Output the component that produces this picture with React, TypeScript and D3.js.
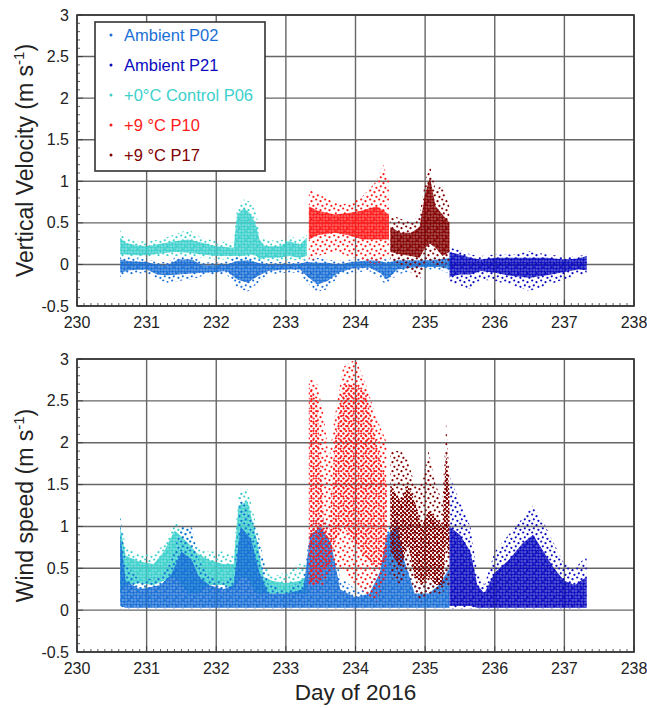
import React from "react";
import * as d3 from "d3";

// ---------- data ----------
// each row: [day, outerLow, coreLow, coreHigh, outerHigh]  (core may be null)
type Row = [number, number, number | null, number | null, number];

const seriesNames = ["Ambient P02", "Ambient P21", "+0°C Control P06", "+9 °C P10", "+9 °C P17"];
const seriesColors = ["#1a6fd6", "#0a0ac0", "#3cd0cc", "#ff1a1a", "#820000"];

const xTicks = [230, 231, 232, 233, 234, 235, 236, 237, 238];
const yTicks = [-0.5, 0, 0.5, 1, 1.5, 2, 2.5, 3];

// Vertical velocity panel
const vvP02: Row[] = [
  [230.62, -0.16, -0.1, 0.06, 0.1], [230.75, -0.12, -0.07, 0.04, 0.08], [231.0, -0.1, -0.06, 0.03, 0.06],
  [231.15, -0.18, -0.12, 0.0, 0.03], [231.3, -0.22, -0.13, -0.01, 0.03], [231.45, -0.2, -0.12, 0.06, 0.1],
  [231.65, -0.18, -0.11, 0.06, 0.1], [231.8, -0.14, -0.1, -0.01, 0.03], [232.0, -0.12, -0.09, -0.01, 0.02],
  [232.15, -0.12, -0.08, 0.0, 0.04], [232.3, -0.28, -0.18, 0.04, 0.1], [232.45, -0.33, -0.22, 0.05, 0.1],
  [232.6, -0.22, -0.14, 0.02, 0.06], [232.75, -0.12, -0.08, 0.0, 0.03], [233.0, -0.1, -0.06, 0.0, 0.03],
  [233.2, -0.1, -0.06, 0.01, 0.03], [233.3, -0.22, -0.14, 0.03, 0.06], [233.45, -0.33, -0.24, 0.02, 0.08],
  [233.6, -0.3, -0.2, 0.02, 0.06], [233.75, -0.15, -0.1, 0.0, 0.04], [233.95, -0.1, -0.05, 0.03, 0.06],
  [234.2, -0.08, -0.04, 0.05, 0.08], [234.35, -0.18, -0.1, 0.04, 0.08], [234.45, -0.25, -0.18, 0.02, 0.06],
  [234.6, -0.12, -0.06, 0.05, 0.08], [234.8, -0.08, -0.04, 0.05, 0.08], [235.0, -0.06, -0.03, 0.05, 0.08],
  [235.2, -0.06, -0.03, 0.06, 0.08], [235.38, -0.12, -0.06, 0.08, 0.12],
];
const vvP21: Row[] = [
  [235.35, -0.22, -0.15, 0.15, 0.2], [235.5, -0.25, -0.12, 0.12, 0.18], [235.65, -0.3, -0.12, 0.08, 0.12],
  [235.8, -0.18, -0.08, 0.06, 0.1], [236.0, -0.2, -0.1, 0.08, 0.12], [236.25, -0.25, -0.14, 0.08, 0.12],
  [236.5, -0.32, -0.16, 0.08, 0.16], [236.75, -0.25, -0.13, 0.08, 0.12], [237.0, -0.18, -0.09, 0.06, 0.1],
  [237.2, -0.12, -0.06, 0.07, 0.1], [237.32, -0.14, -0.07, 0.1, 0.12],
];
const vvP06: Row[] = [
  [230.62, 0.05, 0.12, 0.32, 0.42], [230.7, 0.08, 0.12, 0.26, 0.32], [230.85, 0.07, 0.11, 0.23, 0.28],
  [231.0, 0.08, 0.11, 0.22, 0.28], [231.2, 0.1, 0.13, 0.25, 0.3], [231.4, 0.1, 0.15, 0.28, 0.36],
  [231.6, 0.1, 0.14, 0.3, 0.42], [231.8, 0.08, 0.12, 0.26, 0.32], [232.0, 0.06, 0.1, 0.22, 0.28],
  [232.25, 0.06, 0.1, 0.2, 0.26], [232.3, 0.0, 0.1, 0.6, 0.7], [232.4, 0.0, 0.1, 0.68, 0.78],
  [232.5, 0.0, 0.12, 0.6, 0.75], [232.58, 0.02, 0.1, 0.45, 0.6], [232.62, 0.02, 0.06, 0.3, 0.35],
  [232.7, 0.04, 0.08, 0.22, 0.3], [232.9, 0.04, 0.08, 0.22, 0.28], [233.05, 0.05, 0.1, 0.28, 0.34],
  [233.2, 0.05, 0.08, 0.24, 0.3], [233.3, 0.05, 0.1, 0.32, 0.36],
];
const vvP10: Row[] = [
  [233.33, 0.0, 0.3, 0.7, 0.9], [233.45, 0.1, 0.35, 0.65, 0.85], [233.7, 0.15, 0.38, 0.6, 0.75],
  [233.9, 0.1, 0.35, 0.62, 0.72], [234.1, 0.05, 0.3, 0.65, 0.82], [234.3, 0.0, 0.3, 0.7, 1.0],
  [234.4, 0.05, 0.3, 0.65, 1.2], [234.48, 0.1, 0.3, 0.6, 1.0],
];
const vvP17: Row[] = [
  [234.5, 0.05, 0.15, 0.45, 0.6], [234.65, 0.0, 0.12, 0.38, 0.55], [234.8, -0.1, 0.1, 0.38, 0.5],
  [234.92, -0.2, 0.08, 0.45, 0.6], [235.0, 0.0, 0.2, 0.85, 1.0], [235.07, 0.05, 0.25, 1.05, 1.2],
  [235.15, 0.0, 0.2, 0.7, 0.9], [235.25, -0.05, 0.1, 0.6, 0.95], [235.35, 0.05, 0.15, 0.5, 0.7],
];

// Wind speed panel
const wsP02: Row[] = [
  [230.62, 0.02, 0.05, 0.9, 1.15], [230.7, 0.02, 0.03, 0.35, 0.55], [230.9, 0.02, 0.03, 0.25, 0.35],
  [231.2, 0.02, 0.03, 0.3, 0.4], [231.35, 0.02, 0.03, 0.42, 0.6], [231.5, 0.02, 0.03, 0.7, 1.0],
  [231.65, 0.02, 0.03, 0.6, 1.0], [231.75, 0.02, 0.03, 0.4, 0.6], [231.9, 0.02, 0.03, 0.3, 0.4],
  [232.1, 0.02, 0.03, 0.25, 0.35], [232.25, 0.02, 0.03, 0.3, 0.4], [232.35, 0.02, 0.03, 1.0, 1.4],
  [232.5, 0.02, 0.03, 0.85, 1.1], [232.62, 0.02, 0.03, 0.45, 0.85], [232.75, 0.02, 0.03, 0.2, 0.3],
  [233.0, 0.02, 0.03, 0.2, 0.25], [233.25, 0.02, 0.03, 0.25, 0.35], [233.35, 0.02, 0.03, 0.9, 1.0],
  [233.5, 0.02, 0.03, 1.0, 1.2], [233.65, 0.02, 0.03, 0.8, 0.95], [233.78, 0.02, 0.03, 0.25, 0.4],
  [234.0, 0.02, 0.03, 0.15, 0.25], [234.2, 0.02, 0.03, 0.2, 0.3], [234.35, 0.02, 0.03, 0.45, 0.6],
  [234.45, 0.02, 0.03, 0.9, 1.0], [234.6, 0.02, 0.03, 1.0, 1.1], [234.7, 0.02, 0.03, 0.6, 0.8],
  [234.85, 0.02, 0.03, 0.2, 0.3], [235.05, 0.02, 0.03, 0.2, 0.3], [235.2, 0.02, 0.03, 0.3, 0.4],
  [235.35, 0.02, 0.03, 0.5, 0.6],
];
const wsP21: Row[] = [
  [235.35, 0.02, 0.05, 1.0, 1.6], [235.5, 0.02, 0.05, 0.9, 1.3], [235.65, 0.02, 0.05, 0.7, 1.0],
  [235.75, 0.02, 0.03, 0.3, 0.45], [235.85, 0.02, 0.03, 0.2, 0.3], [236.0, 0.02, 0.03, 0.45, 0.7],
  [236.2, 0.02, 0.03, 0.6, 0.9], [236.4, 0.02, 0.03, 0.8, 1.1], [236.55, 0.02, 0.03, 0.9, 1.25],
  [236.7, 0.02, 0.03, 0.7, 1.05], [236.85, 0.02, 0.03, 0.5, 0.8], [237.0, 0.02, 0.03, 0.35, 0.55],
  [237.15, 0.02, 0.03, 0.3, 0.5], [237.32, 0.02, 0.03, 0.4, 0.65],
];
const wsP06: Row[] = [
  [230.62, 0.05, 0.2, 1.0, 1.15], [230.7, 0.1, 0.3, 0.65, 0.75], [230.9, 0.2, 0.32, 0.58, 0.68],
  [231.1, 0.2, 0.3, 0.55, 0.65], [231.25, 0.25, 0.35, 0.7, 0.8], [231.4, 0.3, 0.4, 0.95, 1.05],
  [231.5, 0.2, 0.3, 0.88, 1.0], [231.6, 0.1, 0.2, 0.8, 1.0], [231.72, 0.15, 0.2, 0.68, 0.75],
  [231.9, 0.2, 0.3, 0.6, 0.7], [232.1, 0.2, 0.3, 0.55, 0.7], [232.25, 0.15, 0.25, 0.55, 0.65],
  [232.32, 0.3, 0.4, 1.25, 1.4], [232.45, 0.3, 0.38, 1.3, 1.45], [232.58, 0.15, 0.2, 0.85, 1.0],
  [232.68, 0.15, 0.2, 0.4, 0.6], [232.8, 0.15, 0.2, 0.35, 0.4], [233.0, 0.15, 0.2, 0.32, 0.45],
  [233.2, 0.15, 0.2, 0.35, 0.55], [233.3, 0.15, 0.2, 0.4, 0.6],
];
const wsP10: Row[] = [
  [233.33, 0.3, 0.3, 2.7, 2.8], [233.45, 0.3, 0.3, 2.5, 2.7], [233.55, 0.3, 0.5, 1.0, 2.3],
  [233.62, 0.4, 0.5, 0.9, 1.8], [233.7, 0.5, 0.8, 2.0, 2.3], [233.82, 0.5, 1.0, 2.7, 2.9],
  [234.0, 0.3, 0.8, 2.7, 3.0], [234.15, 0.2, 0.6, 2.6, 2.7], [234.3, 0.1, 0.5, 2.0, 2.3],
  [234.45, 0.4, 0.6, 1.5, 2.0],
];
const wsP17: Row[] = [
  [234.5, 0.4, 0.7, 1.5, 1.9], [234.65, 0.3, 0.5, 1.3, 1.9], [234.75, 0.5, 0.8, 1.5, 1.8],
  [234.85, 0.2, 0.4, 1.3, 1.5], [234.95, 0.1, 0.3, 1.0, 1.5], [235.05, 0.2, 0.4, 1.2, 1.9],
  [235.15, 0.2, 0.3, 1.1, 1.5], [235.25, 0.2, 0.3, 1.0, 1.3], [235.3, 0.3, 0.8, 1.9, 2.25],
  [235.35, 0.3, 0.6, 1.4, 1.6],
];

// draw order: P06, P02, P10, P17, P21  (indices into seriesNames)
const drawOrder = [2, 0, 3, 4, 1];
const vvSeries = [vvP02, vvP21, vvP06, vvP10, vvP17];
const wsSeries = [wsP02, wsP21, wsP06, wsP10, wsP17];
// how tightly the core points are packed, per series
const vvCore = ["dense", "dense", "dense", "dense", "dense"];
const wsCore = ["dense", "dense", "dense", "medium", "packed"];

// ---------- layout ----------
const W = 647, H = 708;
const X0 = 77, X1 = 634;
const panels = [
  { top: 15, bottom: 306, title: "Vertical Velocity", data: vvSeries, core: vvCore, id: "vv", legend: true },
  { top: 359, bottom: 652, title: "Wind speed", data: wsSeries, core: wsCore, id: "ws", legend: false },
];
const FONT = "'Liberation Sans', Arial, Helvetica, sans-serif";

function Panel({ p }: { p: typeof panels[number] }) {
  const x = d3.scaleLinear().domain([230, 238]).range([X0, X1]);
  const y = d3.scaleLinear().domain([-0.5, 3]).range([p.bottom, p.top]);
  const outer = d3.area<Row>().x(d => x(d[0])).y0(d => y(d[1])).y1(d => y(d[4]));
  const core = d3.area<Row>().defined(d => d[2] !== null).x(d => x(d[0])).y0(d => y(d[2] as number)).y1(d => y(d[3] as number));
  const minorX = d3.range(0, 81).map(k => 230 + k / 10);
  const minorY = d3.range(0, 36).map(k => -0.5 + k / 10);
  const cy = (p.top + p.bottom) / 2;
  return (
    <g>
      <clipPath id={`clip-${p.id}`}>
        <rect x={X0} y={p.top} width={X1 - X0} height={p.bottom - p.top} />
      </clipPath>
      {xTicks.map(t => (
        <line key={"gx" + t} x1={x(t)} x2={x(t)} y1={p.top} y2={p.bottom} stroke="#666" strokeWidth={1.4} />
      ))}
      {yTicks.map(t => (
        <line key={"gy" + t} x1={X0} x2={X1} y1={y(t)} y2={y(t)} stroke="#666" strokeWidth={1.4} />
      ))}
      <g clipPath={`url(#clip-${p.id})`}>
        {drawOrder.map(i => (
          <g key={i}>
            <path d={outer(p.data[i]) || ""} fill={`url(#sparse-${i})`} />
            <path d={core(p.data[i]) || ""} fill={`url(#${p.core[i]}-${i})`} />
          </g>
        ))}
      </g>
      {minorX.map((t, k) => (
        <line key={"mx" + k} x1={x(t)} x2={x(t)} y1={p.bottom} y2={p.bottom - (k % 10 === 0 ? 6 : 3)} stroke="#333" strokeWidth={0.8} />
      ))}
      {minorY.map((t, k) => (
        <line key={"my" + k} x1={X0} x2={X0 + (k % 5 === 0 ? 6 : 3)} y1={y(t)} y2={y(t)} stroke="#333" strokeWidth={0.8} />
      ))}
      <rect x={X0} y={p.top} width={X1 - X0} height={p.bottom - p.top} fill="none" stroke="#333" strokeWidth={1.6} />
      {xTicks.map(t => (
        <text key={"tx" + t} x={x(t)} y={p.bottom + 22} textAnchor="middle" fontSize={16} fill="#222" fontFamily={FONT}>{t}</text>
      ))}
      {yTicks.map(t => (
        <text key={"ty" + t} x={X0 - 8} y={y(t) + 5.5} textAnchor="end" fontSize={16} fill="#222" fontFamily={FONT}>{t}</text>
      ))}
      <text transform={`translate(33,${cy}) rotate(-90)`} textAnchor="middle" fontSize={23} fill="#222" fontFamily={FONT}>
        {p.title} (m s<tspan dy={-9} fontSize={15}>-1</tspan><tspan dy={9}>)</tspan>
      </text>
      {p.legend && (
        <g>
          <rect x={95} y={22} width={170} height={149} fill="white" stroke="#333" strokeWidth={1.6} />
          {seriesNames.map((n, i) => (
            <g key={n}>
              <circle cx={111} cy={35 + i * 30} r={1.5} fill={seriesColors[i]} />
              <text x={124} y={41 + i * 30} fontSize={16.5} fill={seriesColors[i]} fontFamily={FONT}>{n}</text>
            </g>
          ))}
        </g>
      )}
    </g>
  );
}

export default function App() {
  return (
    <svg width={W} height={H} style={{ position: "absolute", left: 0, top: 0, background: "white" }}>
      <defs>
        {seriesColors.map((c, i) => (
          <React.Fragment key={i}>
            <pattern id={`dense-${i}`} patternUnits="userSpaceOnUse" width={3} height={3}>
              <rect width={3} height={3} fill={c} opacity={0.6} />
              <circle cx={1.5} cy={1.5} r={1.3} fill={c} />
            </pattern>
            <pattern id={`packed-${i}`} patternUnits="userSpaceOnUse" width={4} height={4}>
              <circle cx={1} cy={1} r={1.2} fill={c} />
              <circle cx={3} cy={3} r={1.2} fill={c} />
            </pattern>
            <pattern id={`medium-${i}`} patternUnits="userSpaceOnUse" width={5} height={5}>
              <circle cx={1.2} cy={1.2} r={1.15} fill={c} />
              <circle cx={3.7} cy={3.6} r={1.15} fill={c} />
            </pattern>
            <pattern id={`sparse-${i}`} patternUnits="userSpaceOnUse" width={9} height={9}>
              <circle cx={1.2} cy={1.5} r={1.1} fill={c} />
              <circle cx={5.5} cy={3.2} r={1.1} fill={c} />
              <circle cx={2.8} cy={6.3} r={1.1} fill={c} />
              <circle cx={7.4} cy={7.8} r={1.1} fill={c} />
            </pattern>
          </React.Fragment>
        ))}
      </defs>
      <rect width={W} height={H} fill="white" />
      {panels.map(p => <Panel key={p.id} p={p} />)}
      <text x={(X0 + X1) / 2} y={700} textAnchor="middle" fontSize={22.5} fill="#222" fontFamily={FONT}>Day of 2016</text>
    </svg>
  );
}
